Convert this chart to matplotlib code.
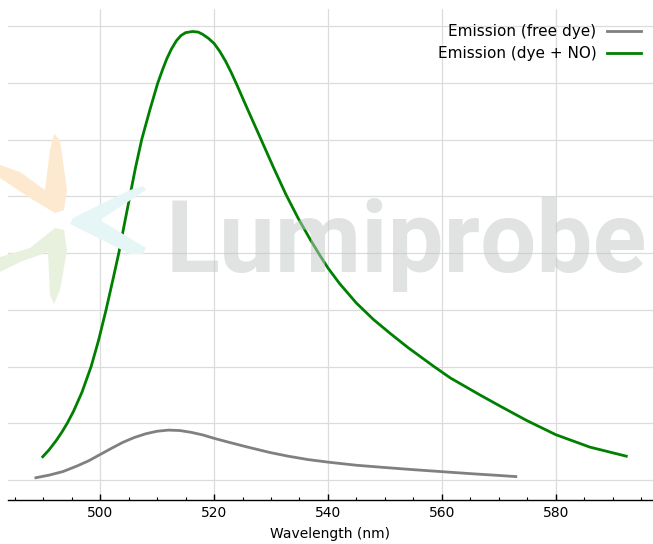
import matplotlib
matplotlib.use("Agg")
import matplotlib.pyplot as plt
from matplotlib.ticker import MultipleLocator
from matplotlib.patches import Polygon
from matplotlib import font_manager

# ---- data ----
wl_free = [488.7, 491.0, 493.5, 496.0, 498.0, 500.0, 502.0, 504.0, 506.0, 508.0,
           510.0, 512.0, 514.0, 516.0, 518.0, 520.0, 522.8, 525.7, 529.8, 533.0,
           536.5, 540.0, 545.0, 550.0, 555.0, 560.0, 565.0, 570.0, 573.0]
em_free = [4, 8.5, 15, 25, 34, 45, 56, 66.5, 75, 81.5,
           86, 88, 87.2, 84, 79.5, 73.5, 66, 58.5, 48.5, 42,
           36, 31.5, 26, 22, 18.2, 14.7, 11.2, 8, 6]

wl_no = [489.9, 491.0, 492.3, 493.3, 494.2, 495.3, 496.8, 498.4, 499.7, 501.0,
         502.2, 503.3, 504.2, 505.2, 506.2, 507.3, 508.7, 510.1, 511.0, 511.7,
         512.5, 513.4, 514.2, 515.0, 516.2, 517.2, 518.0, 519.0, 520.0, 521.0,
         522.0, 523.0, 524.0, 525.7, 528.1, 530.4, 532.6, 534.8, 536.9, 538.6,
         540.0, 542.0, 545.0, 548.0, 551.0, 554.0, 558.5, 561.5, 566.7, 570.3,
         574.9, 580.0, 586.0, 592.4]
em_no = [41, 53, 70, 85, 100, 121, 155, 200, 246, 299,
         352, 402, 449, 500, 551, 601, 652, 700, 725, 743,
         760, 775, 784, 789, 791, 790, 786, 779, 770, 756,
         739, 719, 697, 658, 604, 552, 504, 461, 424, 396,
         374, 347, 312, 283, 258, 234, 201, 180, 150, 130,
         105, 80, 58, 42]

labels = ["Emission (free dye)", "Emission (dye + NO)"]
colors = ["gray", "green"]

W, H = 653, 544
fig = plt.figure(figsize=(W / 100, H / 100), dpi=100)
ax = fig.add_axes([8 / W, 44 / H, 645 / W, (500 - 9) / H])


def px(pts):
    return [(x / W, 1 - y / H) for x, y in pts]


# watermark logo (decorative petals)
logo = [
    ("#fde9cf", [(0, 165), (20, 172), (45, 190), (50, 150), (54, 134), (60, 140),
                 (67, 190), (64, 210), (55, 213), (30, 198), (0, 178)]),
    ("#e6f5f6", [(143, 186), (130, 190), (73, 218), (70, 224), (130, 254), (143, 254),
                 (146, 248), (100, 220), (146, 190)]),
    ("#e8f1dd", [(0, 257), (30, 248), (55, 228), (64, 230), (67, 250), (60, 290),
                 (54, 304), (50, 295), (48, 252), (20, 262), (0, 272)]),
]
for c, pts in logo:
    fig.add_artist(Polygon(px(pts), closed=True, transform=fig.transFigure,
                           facecolor=c, edgecolor="none", zorder=0.4))

# watermark text
avail = {f.name for f in font_manager.fontManager.ttflist}
wm_fam = [f for f in ["Liberation Sans Narrow", "DejaVu Sans Condensed", "Roboto"] if f in avail] + ["DejaVu Sans"]
wm = fig.text(166 / W, 1 - 272 / H, "Lumiprobe", family=wm_fam, fontweight="bold",
              fontsize=100, color="#c4c8c8", alpha=0.5, ha="left", va="baseline", zorder=0.5)
r = fig.canvas.get_renderer()
wpx = wm.get_window_extent(r).width
wm.set_fontsize(100 * 482 / wpx)

ax.plot(wl_free, em_free, color=colors[0], lw=2, label=labels[0], zorder=3)
ax.plot(wl_no, em_no, color=colors[1], lw=2, label=labels[1], zorder=3)

ax.set_xlim(483.8, 597.1)
ax.set_ylim(-35.3, 830.7)
ax.xaxis.set_major_locator(MultipleLocator(20))
ax.xaxis.set_minor_locator(MultipleLocator(5))
ax.yaxis.set_major_locator(MultipleLocator(100))
ax.tick_params(axis="x", which="major", direction="in", length=4, width=1, labelsize=10, pad=4)
ax.tick_params(axis="x", which="minor", direction="in", length=2.5, width=0.8)
ax.tick_params(axis="y", which="both", length=0, labelleft=False)
for s in ["left", "right", "top"]:
    ax.spines[s].set_visible(False)
ax.spines["bottom"].set_color("black")
ax.spines["bottom"].set_linewidth(1)
ax.grid(True, color="#dcdcdc", lw=0.9)
ax.set_axisbelow(True)
ax.patch.set_alpha(0)
ax.set_xlabel("Wavelength (nm)", fontsize=10, labelpad=5.5)

leg = ax.legend(loc="upper right", frameon=False, markerfirst=False, fontsize=11,
                handlelength=2.2, handletextpad=0.7, borderaxespad=0, borderpad=0.4,
                labelspacing=0.45,
                bbox_to_anchor=(647 / W, 1 - 18 / H), bbox_transform=fig.transFigure)

fig.savefig("out.png", dpi=100)
